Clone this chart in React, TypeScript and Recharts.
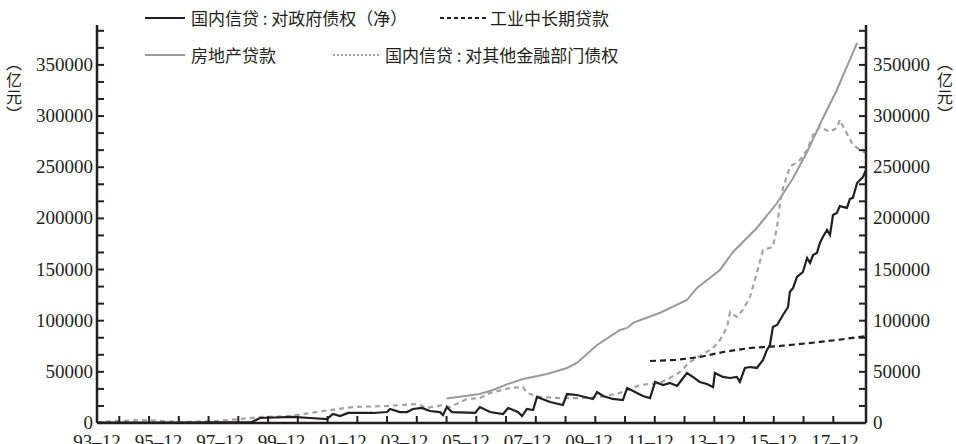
import React from 'react';
import { LineChart, Line, XAxis, YAxis } from 'recharts';

// ---- data (x = decimal year, y = 亿元) ----
const govSeries: [number, number][] = [
  [1993.25, 300], [1996.04, 500], [1998.46, 1000], [1998.73, 4900], [1999.84, 5900],
  [2000.41, 4900], [2000.98, 3900], [2001.18, 8800], [2001.42, 6800], [2001.69, 9800],
  [2002.09, 9800], [2002.53, 9800], [2003.0, 10700], [2003.1, 13700], [2003.43, 10700],
  [2003.67, 10700], [2003.87, 13700], [2004.17, 14700], [2004.44, 11700], [2004.78, 10700],
  [2004.88, 7800], [2005.01, 15600], [2005.18, 10700], [2005.96, 9800], [2006.12, 15600],
  [2006.46, 10700], [2006.9, 8800], [2007.07, 14700], [2007.4, 10700], [2007.54, 6800],
  [2007.7, 13700], [2007.91, 12700], [2008.04, 25400], [2008.48, 20500], [2008.91, 17600],
  [2009.05, 28300], [2009.38, 27400], [2009.92, 23500], [2010.06, 30300], [2010.26, 26400],
  [2010.59, 23500], [2010.93, 22500], [2011.07, 34200], [2011.27, 31300], [2011.6, 26400],
  [2011.84, 24400], [2012.01, 40100], [2012.28, 37100], [2012.51, 39100], [2012.75, 36200],
  [2012.85, 40100], [2013.08, 48900], [2013.28, 45000], [2013.51, 40100], [2013.75, 38100],
  [2013.96, 35200], [2014.02, 48900], [2014.29, 45000], [2014.53, 44000], [2014.76, 45000],
  [2014.86, 40100], [2015.03, 53800], [2015.2, 54700], [2015.43, 53800], [2015.64, 61600],
  [2015.77, 71400], [2015.87, 76200], [2015.97, 93800], [2016.11, 95800], [2016.31, 105600],
  [2016.48, 113400], [2016.54, 128100], [2016.65, 132000], [2016.78, 142700], [2016.98, 147600],
  [2017.12, 161300], [2017.22, 156400], [2017.32, 164200], [2017.45, 166200], [2017.55, 176000],
  [2017.65, 181800], [2017.79, 188700], [2017.89, 183800], [2017.99, 203300], [2018.12, 205300],
  [2018.22, 212100], [2018.32, 211200], [2018.46, 210200], [2018.56, 219000], [2018.66, 220000],
  [2018.8, 234600], [2018.9, 237600], [2019.0, 240500], [2019.1, 247300],
];

const industrySeries: [number, number][] = [
  [2011.84, 60600], [2012.7, 61600], [2013.52, 64500], [2014.3, 69400], [2015.2, 73300],
  [2016.21, 75300], [2017.55, 79200], [2018.22, 81500], [2019.1, 85000],
];

const realEstateSeries: [number, number][] = [
  [2005.0, 24000], [2005.5, 26000], [2006.12, 28300], [2006.56, 32300], [2007.0, 37500],
  [2007.57, 43000], [2008.38, 47900], [2009.05, 53800], [2009.38, 58700], [2010.06, 76200],
  [2010.83, 90900], [2011.07, 92900], [2011.27, 97800], [2012.2, 108000], [2013.08, 120200],
  [2013.42, 132000], [2014.19, 149600], [2014.63, 167200], [2015.43, 190600], [2016.11, 215000],
  [2016.65, 239500], [2017.12, 264900], [2017.62, 296200], [2018.12, 325500], [2018.8, 371500],
];

const otherFinSeries: [number, number][] = [
  [1993.25, 1000], [1994.8, 2900], [1996.04, 1000], [1997.28, 2000], [1998.06, 3900],
  [1998.83, 5900], [1999.74, 6800], [2000.85, 11700], [2001.35, 13700], [2001.86, 15600],
  [2003.0, 16600], [2004.01, 18600], [2004.34, 14700], [2004.88, 17600], [2005.12, 15600],
  [2005.69, 23500], [2006.12, 24400], [2006.46, 29300], [2007.13, 34200], [2007.57, 35200],
  [2007.7, 29300], [2008.14, 25400], [2008.81, 24400], [2009.49, 24400], [2010.16, 25400],
  [2010.83, 29300], [2011.5, 37100], [2012.17, 39100], [2012.51, 44000], [2012.85, 49900],
  [2013.18, 59600], [2013.52, 65500], [2013.96, 73300], [2014.19, 81100], [2014.43, 93800],
  [2014.53, 108500], [2014.76, 103600], [2014.96, 110500], [2015.2, 123200], [2015.43, 146600],
  [2015.64, 169100], [2015.97, 172100], [2016.11, 191600], [2016.21, 215100], [2016.31, 229700],
  [2016.54, 250300], [2016.88, 257100], [2017.12, 266900], [2017.32, 281500], [2017.55, 289400],
  [2017.89, 284500], [2018.12, 288400], [2018.22, 296200], [2018.39, 286400], [2018.66, 271800],
  [2018.9, 266900], [2019.1, 264000],
];

const seriesNames = [
  '国内信贷 : 对政府债权（净）',
  '工业中长期贷款',
  '房地产贷款',
  '国内信贷 : 对其他金融部门债权',
];

const xTickLabels = ['93–12', '95–12', '97–12', '99–12', '01–12', '03–12', '05–12', '07–12', '09–12', '11–12', '13–12', '15–12', '17–12'];
const yearTicks = [1994, 1995, 1996, 1997, 1998, 1999, 2000, 2001, 2002, 2003, 2004, 2005, 2006, 2007, 2008, 2009, 2010, 2011, 2012, 2013, 2014, 2015, 2016, 2017, 2018];
const yMajorStep = 50000;
const yMinorPerMajor = 3;
const yMax = 389000;
// unit label (亿元) written vertically, with vertical-form brackets
const unitChars = ['︵', '亿', '元', '︶'];

// ---- derived ----
const X_DOMAIN: [number, number] = [1993.25, 2019.1];
const LABEL_STEP = 2.067;
const labelTicks = xTickLabels.map((_, i) => X_DOMAIN[0] + i * LABEL_STEP);
const xTicks = [...yearTicks, ...labelTicks].sort((a, b) => a - b);
const yTicks: number[] = [];
for (let k = 0; k * (yMajorStep / yMinorPerMajor) <= yMax; k++) yTicks.push(k * (yMajorStep / yMinorPerMajor));

const toData = (s: [number, number][]) => s.map(([t, v]) => ({ t, v }));
const govData = toData(govSeries);
const industryData = toData(industrySeries);
const realEstateData = toData(realEstateSeries);
const otherFinData = toData(otherFinSeries);

const INK = '#231f20';
const GRAY = '#9a9a9a';
const NUM_FONT = '"Liberation Serif", "DejaVu Serif", serif';
const CJK_FONT = '"Noto Sans CJK SC", "Noto Sans", sans-serif';
const TICK_LEN = 7;

const XTick = (props: any) => {
  const { x, y, payload } = props;
  const v = payload.value;
  const li = labelTicks.findIndex((t) => Math.abs(t - v) < 1e-6);
  if (li >= 0) {
    return (
      <text x={x} y={y + 25} textAnchor="middle" fontSize={19} fontFamily={NUM_FONT} fill={INK}>
        {xTickLabels[li]}
      </text>
    );
  }
  return <line x1={x} x2={x} y1={y} y2={y - TICK_LEN} stroke={INK} strokeWidth={2} />;
};

const isMajor = (v: number) => Math.abs(v / yMajorStep - Math.round(v / yMajorStep)) < 1e-6;

const LeftTick = (props: any) => {
  const { x, y, payload } = props;
  const v = payload.value;
  return (
    <g>
      <line x1={x} x2={x + TICK_LEN} y1={y} y2={y} stroke={INK} strokeWidth={2} />
      {isMajor(v) && (
        <text x={x - 4} y={y + 6} textAnchor="end" fontSize={19} fontFamily={NUM_FONT} fill={INK}>
          {Math.round(v)}
        </text>
      )}
    </g>
  );
};

const RightTick = (props: any) => {
  const { x, y, payload } = props;
  const v = payload.value;
  return (
    <g>
      <line x1={x} x2={x - TICK_LEN} y1={y} y2={y} stroke={INK} strokeWidth={2} />
      {isMajor(v) && (
        <text x={x + 7} y={y + 6} textAnchor="start" fontSize={19} fontFamily={NUM_FONT} fill={INK}>
          {Math.round(v)}
        </text>
      )}
    </g>
  );
};

const legendText: React.CSSProperties = {
  position: 'absolute',
  fontFamily: CJK_FONT,
  fontSize: 17,
  color: INK,
  lineHeight: '20px',
  whiteSpace: 'nowrap',
};

const UnitLabel = ({ left }: { left: number }) => (
  <div style={{ position: 'absolute', left, top: 54, width: 18, fontFamily: CJK_FONT, fontSize: 16, color: INK, lineHeight: '17px', textAlign: 'center' }}>
    {unitChars.map((ch, i) => (
      <div key={i} style={{ height: 17 }}>{ch}</div>
    ))}
  </div>
);

const Sample = ({ left, top, color, dash, width }: { left: number; top: number; color: string; dash?: string; width: number }) => (
  <svg style={{ position: 'absolute', left, top: top - 3 }} width={width} height={6}>
    <line x1={0} x2={width} y1={3} y2={3} stroke={color} strokeWidth={2} strokeDasharray={dash} />
  </svg>
);

export default function App() {
  return (
    <div style={{ position: 'absolute', left: 0, top: 0, width: 956, height: 444, background: '#fff', overflow: 'hidden' }}>
      <LineChart width={956} height={444} margin={{ top: 25, right: 30, bottom: 0, left: 37 }}>
        <XAxis
          dataKey="t"
          type="number"
          domain={X_DOMAIN}
          allowDataOverflow
          ticks={xTicks}
          interval={0}
          tick={<XTick />}
          tickLine={false}
          tickSize={0}
          tickMargin={0}
          height={21}
          axisLine={{ stroke: INK, strokeWidth: 2.5 }}
        />
        <YAxis
          yAxisId="left"
          type="number"
          domain={[0, yMax]}
          allowDataOverflow
          ticks={yTicks}
          interval={0}
          tick={<LeftTick />}
          tickLine={false}
          tickSize={0}
          tickMargin={0}
          width={60}
          axisLine={{ stroke: INK, strokeWidth: 2.5 }}
        />
        <YAxis
          yAxisId="right"
          orientation="right"
          type="number"
          domain={[0, yMax]}
          allowDataOverflow
          ticks={yTicks}
          interval={0}
          tick={<RightTick />}
          tickLine={false}
          tickSize={0}
          tickMargin={0}
          width={60}
          axisLine={{ stroke: INK, strokeWidth: 2.5 }}
        />
        <Line yAxisId="left" data={realEstateData} dataKey="v" type="linear" stroke={GRAY} strokeWidth={2} dot={false} isAnimationActive={false} name={seriesNames[2]} />
        <Line yAxisId="left" data={otherFinData} dataKey="v" type="linear" stroke="#a3a3a3" strokeWidth={2.2} strokeDasharray="5 4" dot={false} isAnimationActive={false} name={seriesNames[3]} />
        <Line yAxisId="right" data={industryData} dataKey="v" type="linear" stroke={INK} strokeWidth={2.2} strokeDasharray="6 4" dot={false} isAnimationActive={false} name={seriesNames[1]} />
        <Line yAxisId="left" data={govData} dataKey="v" type="linear" stroke={INK} strokeWidth={2.2} dot={false} isAnimationActive={false} name={seriesNames[0]} />
      </LineChart>

      {/* legend */}
      <Sample left={145} top={18} color={INK} width={40} />
      <div style={{ ...legendText, left: 191, top: 8 }}>{seriesNames[0]}</div>
      <Sample left={440} top={18} color={INK} width={46} dash="4 3" />
      <div style={{ ...legendText, left: 490, top: 8 }}>{seriesNames[1]}</div>
      <Sample left={145} top={55} color={GRAY} width={40} />
      <div style={{ ...legendText, left: 191, top: 45 }}>{seriesNames[2]}</div>
      <Sample left={333} top={55} color="#a3a3a3" width={46} dash="2 2" />
      <div style={{ ...legendText, left: 385, top: 45 }}>{seriesNames[3]}</div>

      {/* unit labels */}
      <UnitLabel left={5} />
      <UnitLabel left={936} />
    </div>
  );
}
